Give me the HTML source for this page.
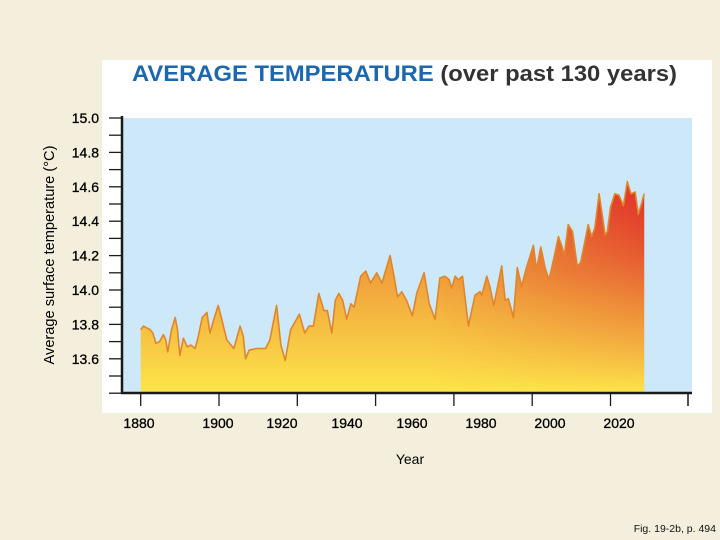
<!DOCTYPE html>
<html><head><meta charset="utf-8"><style>
html,body{margin:0;padding:0;background:#f3efdc;}
svg{display:block;font-family:"Liberation Sans",sans-serif;}
</style></head><body>
<svg width="720" height="540" viewBox="0 0 720 540">
<defs>
<linearGradient id="gv" x1="0" y1="393" x2="0" y2="180" gradientUnits="userSpaceOnUse">
<stop offset="0" stop-color="#fde54a"/><stop offset="0.55" stop-color="#f0a03c"/><stop offset="1" stop-color="#e77a32"/>
</linearGradient>
<linearGradient id="gh" x1="430" y1="0" x2="645" y2="0" gradientUnits="userSpaceOnUse">
<stop offset="0" stop-color="#e02a2a" stop-opacity="0"/><stop offset="1" stop-color="#e02a2a" stop-opacity="0.95"/>
</linearGradient>
<linearGradient id="gfade" x1="0" y1="393" x2="0" y2="180" gradientUnits="userSpaceOnUse">
<stop offset="0" stop-color="#fff" stop-opacity="0"/><stop offset="0.45" stop-color="#fff" stop-opacity="0.35"/><stop offset="1" stop-color="#fff" stop-opacity="1"/>
</linearGradient>
<mask id="m"><rect x="0" y="0" width="720" height="540" fill="url(#gfade)"/></mask>
</defs>
<rect x="102" y="60" width="610" height="353" fill="#fff"/>
<text x="132" y="81" font-size="22.5" font-weight="bold" textLength="545" lengthAdjust="spacingAndGlyphs"><tspan fill="#1c67ae">AVERAGE TEMPERATURE</tspan><tspan fill="#333"> (over past 130 years)</tspan></text>
<rect x="123" y="118" width="569" height="275" fill="#cde8f8"/>
<g id="series"></g>
<g id="axes"></g>
<text transform="translate(54,255) rotate(-90)" text-anchor="middle" font-size="14.6" fill="#000">Average surface temperature (°C)</text>
<text x="410" y="464" text-anchor="middle" font-size="14" fill="#000">Year</text>
<text x="716" y="532" text-anchor="end" font-size="10.5" fill="#111">Fig. 19-2b, p. 494</text>
</svg>
<script>
const years = [1880.0,1880.7,1881.5,1882.4,1883.1,1883.9,1884.8,1885.8,1886.4,1886.9,1887.9,1888.8,1889.4,1890.0,1890.9,1891.9,1892.8,1893.9,1894.7,1895.7,1896.9,1897.7,1898.7,1899.8,1900.7,1902.0,1903.8,1905.4,1906.2,1906.8,1907.7,1909.6,1911.9,1913.0,1914.7,1915.8,1916.9,1918.3,1919.3,1920.5,1921.9,1923.0,1924.1,1925.5,1926.8,1927.7,1928.8,1929.7,1930.6,1931.6,1932.6,1933.7,1934.5,1936.2,1937.5,1938.7,1940.3,1941.6,1943.7,1944.7,1945.6,1946.7,1947.9,1949.4,1950.5,1952.4,1953.7,1955.2,1956.4,1957.7,1958.8,1959.4,1960.3,1961.1,1962.2,1963.7,1965.4,1966.7,1967.1,1968.4,1969.2,1970.2,1972.2,1973.1,1973.9,1975.2,1976.2,1977.3,1978.4,1980.3,1981.1,1982.2,1983.3,1984.3,1985.4,1986.7,1987.5,1988.2,1989.2,1990.3,1991.5,1992.4,1994.3,1995.2,1996.0,1997.1,1998.0,1998.6,1999.2,2000.0,2001.1,2002.2,2003.3,2004.3,2005.2,2006.3,2007.1,2007.9,2008.6];
const temps = [13.77,13.79,13.78,13.77,13.75,13.69,13.70,13.74,13.71,13.64,13.77,13.84,13.77,13.62,13.72,13.67,13.68,13.66,13.73,13.84,13.87,13.75,13.83,13.91,13.83,13.71,13.66,13.79,13.73,13.60,13.65,13.66,13.66,13.71,13.91,13.68,13.59,13.77,13.81,13.86,13.75,13.79,13.79,13.98,13.88,13.88,13.75,13.94,13.98,13.94,13.83,13.92,13.90,14.08,14.11,14.04,14.10,14.04,14.20,14.08,13.96,13.99,13.94,13.85,13.98,14.10,13.92,13.83,14.07,14.08,14.06,14.01,14.08,14.06,14.08,13.79,13.97,13.99,13.97,14.08,14.02,13.91,14.14,13.94,13.95,13.84,14.13,14.02,14.12,14.26,14.12,14.25,14.13,14.06,14.17,14.31,14.26,14.20,14.38,14.34,14.14,14.16,14.38,14.31,14.36,14.56,14.42,14.32,14.34,14.48,14.56,14.55,14.49,14.63,14.56,14.57,14.44,14.50,14.56];
const yTicks = [15.0,14.8,14.6,14.4,14.2,14.0,13.8,13.6];
const yTickLabels = ["15.0","14.8","14.6","14.4","14.2","14.0","13.8","13.6"];
const xTickYears = [1880,1900,1920,1940,1960,1980,2000,2020,2040];
const xLabels = ["1880","1900","1920","1940","1960","1980","2000","2020"];
const xLabelPos = [139,218,282,347,412,481,550,619];

const NS="http://www.w3.org/2000/svg";
const xS = y => 140.7 + (y-1880)*3.915;
const yS = v => 118 + (15.0 - v)*172;
function mk(tag, attrs, parent){const e=document.createElementNS(NS,tag);for(const k in attrs)e.setAttribute(k,attrs[k]);parent.appendChild(e);return e;}
const series=document.getElementById('series');
let pts=years.map((y,i)=>xS(y).toFixed(1)+","+yS(temps[i]).toFixed(1));
let d="M"+xS(years[0]).toFixed(1)+",393 L"+pts.join(" L")+" L"+xS(years[years.length-1]).toFixed(1)+",393 Z";
const a1=mk('path',{d:d,fill:'url(#gv)'},series);


const a2=mk('path',{d:d,fill:'url(#gh)',mask:'url(#m)'},series);


const ln=mk('polyline',{points:pts.join(" "),fill:'none',stroke:'#e0862a','stroke-width':1.6,'stroke-linejoin':'round'},series);



const axes=document.getElementById('axes');
const ya=mk('line',{x1:122,y1:116,x2:122,y2:394,stroke:'#1a1a1a','stroke-width':2.5},axes);


const xa=mk('line',{x1:121,y1:393,x2:692,y2:393,stroke:'#1a1a1a','stroke-width':2.5},axes);


for(let v=15.0; v>13.35; v-=0.1){
  const t=mk('line',{x1:109,y1:yS(v),x2:122,y2:yS(v),stroke:'#1a1a1a','stroke-width':1.3},axes);
  
  
}
yTicks.forEach((v,i)=>{
  const t=mk('text',{x:99,y:yS(v)+5,'text-anchor':'end','font-size':14,fill:'#000',stroke:'#000','stroke-width':0.3},axes);
  t.textContent=yTickLabels[i];
  
  
});
xTickYears.forEach(y=>{
  const x=Math.min(xS(y),688);
  const t=mk('line',{x1:x,y1:393,x2:x,y2:406,stroke:'#1a1a1a','stroke-width':1.3},axes);
  
  
});
xLabels.forEach((s,i)=>{
  const t=mk('text',{x:xLabelPos[i],y:428,'text-anchor':'middle','font-size':14,fill:'#000',stroke:'#000','stroke-width':0.3},axes);
  t.textContent=s;
  
  
});
</script>
</body></html>
